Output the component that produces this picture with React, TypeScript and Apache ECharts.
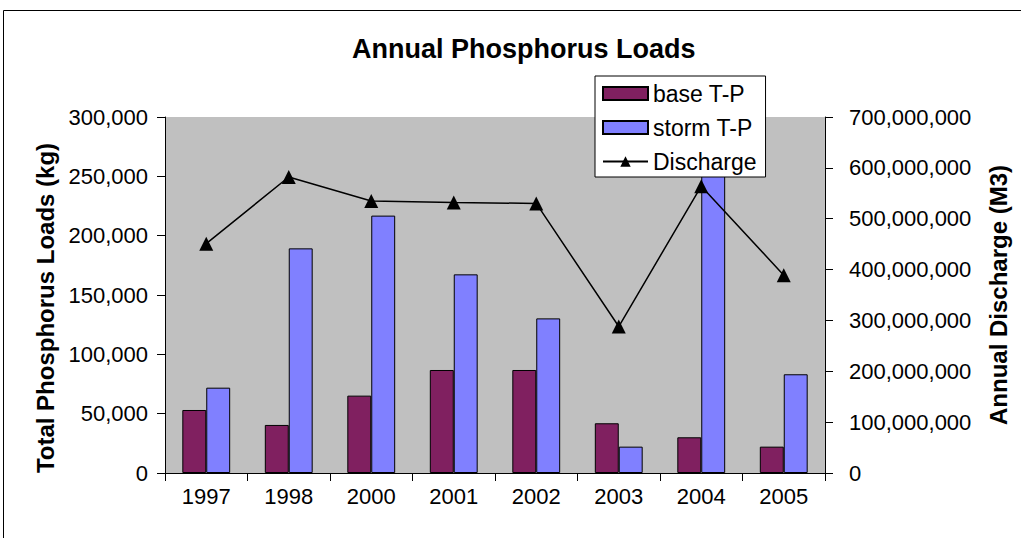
import React, { useEffect, useRef } from "react";
import * as echarts from "echarts";

const years = ["1997", "1998", "2000", "2001", "2002", "2003", "2004", "2005"];
const baseTP = [53100, 40500, 65200, 86800, 86800, 41900, 30100, 22200];
const stormTP = [71900, 189300, 216900, 167400, 130300, 22200, 258000, 83200];
const discharge = [451000000, 582000000, 535000000, 532000000, 530000000, 288000000, 564000000, 389000000];

const FONT = "'Liberation Sans', Arial, sans-serif";
const fmt = (v: number) => Math.round(v).toLocaleString("en-US");

export default function App() {
  const ref = useRef<HTMLDivElement>(null);
  useEffect(() => {
    if (!ref.current) return;
    const chart = echarts.init(ref.current, null, { renderer: "svg" });
    chart.setOption({
      animation: false,
      backgroundColor: "#ffffff",
      textStyle: { fontFamily: FONT },
      title: {
        text: "Annual Phosphorus Loads",
        left: 347,
        top: 30,
        textStyle: { fontFamily: FONT, fontSize: 27, fontWeight: "bold", color: "#000" },
      },
      graphic: [
        {
          type: "rect",
          shape: { x: 3.5, y: 10.5, width: 1040, height: 560 },
          style: { fill: "none", stroke: "#000", lineWidth: 1 },
          z: 100,
        },
      ],
      legend: {
        orient: "vertical",
        left: 595,
        top: 76,
        backgroundColor: "#ffffff",
        borderColor: "#000",
        borderWidth: 1,
        borderRadius: 0,
        padding: [6, 9, 4, 7],
        itemWidth: 45,
        itemHeight: 13,
        itemGap: 11,
        textStyle: { fontFamily: FONT, fontSize: 23, color: "#000" },
        data: [
          { name: "base T-P", icon: "rect" },
          { name: "storm T-P", icon: "rect" },
          { name: "Discharge" },
        ],
        z: 10,
      },
      grid: {
        left: 165,
        right: 196,
        top: 117,
        bottom: 65,
        show: true,
        backgroundColor: "#C0C0C0",
        borderWidth: 0,
      },
      xAxis: {
        type: "category",
        data: years,
        boundaryGap: true,
        axisLine: { lineStyle: { color: "#000", width: 1 } },
        axisTick: { show: true, interval: 0, length: 8, lineStyle: { color: "#000" } },
        axisLabel: { fontFamily: FONT, fontSize: 22, color: "#000", margin: 12 },
      },
      yAxis: [
        {
          type: "value",
          min: 0,
          max: 300000,
          interval: 50000,
          name: "Total Phosphorus Loads (kg)",
          nameLocation: "middle",
          nameGap: 107,
          nameRotate: 90,
          nameTextStyle: {
            fontFamily: FONT,
            fontSize: 24,
            fontWeight: "bold",
            color: "#000",
            padding: [0, 26, 0, 0],
          },
          axisLine: { show: true, lineStyle: { color: "#000" } },
          axisTick: { show: true, length: 8, lineStyle: { color: "#000" } },
          splitLine: { show: false },
          axisLabel: { fontFamily: FONT, fontSize: 22, color: "#000", margin: 17, formatter: fmt },
        },
        {
          type: "value",
          min: 0,
          max: 700000000,
          interval: 100000000,
          position: "right",
          name: "Annual Discharge (M3)",
          nameLocation: "middle",
          nameGap: 161,
          nameRotate: 90,
          nameTextStyle: { fontFamily: FONT, fontSize: 24, fontWeight: "bold", color: "#000" },
          axisLine: { show: true, lineStyle: { color: "#000" } },
          axisTick: { show: true, length: 8, lineStyle: { color: "#000" } },
          splitLine: { show: false },
          axisLabel: { fontFamily: FONT, fontSize: 22, color: "#000", margin: 24, formatter: fmt },
        },
      ],
      series: [
        {
          name: "base T-P",
          type: "bar",
          data: baseTP,
          barCategoryGap: "42%",
          barGap: "0%",
          itemStyle: { color: "#802060", borderColor: "#000", borderWidth: 1 },
        },
        {
          name: "storm T-P",
          type: "bar",
          data: stormTP,
          barCategoryGap: "42%",
          barGap: "0%",
          itemStyle: { color: "#8080FF", borderColor: "#000", borderWidth: 1 },
        },
        {
          name: "Discharge",
          type: "line",
          yAxisIndex: 1,
          data: discharge,
          symbol: "triangle",
          symbolSize: 14,
          lineStyle: { color: "#000", width: 1.5 },
          itemStyle: { color: "#000" },
          z: 5,
        },
      ],
    });
    return () => chart.dispose();
  }, []);
  return (
    <div
      ref={ref}
      style={{ position: "absolute", left: 0, top: 0, width: 1021, height: 538 }}
    />
  );
}
